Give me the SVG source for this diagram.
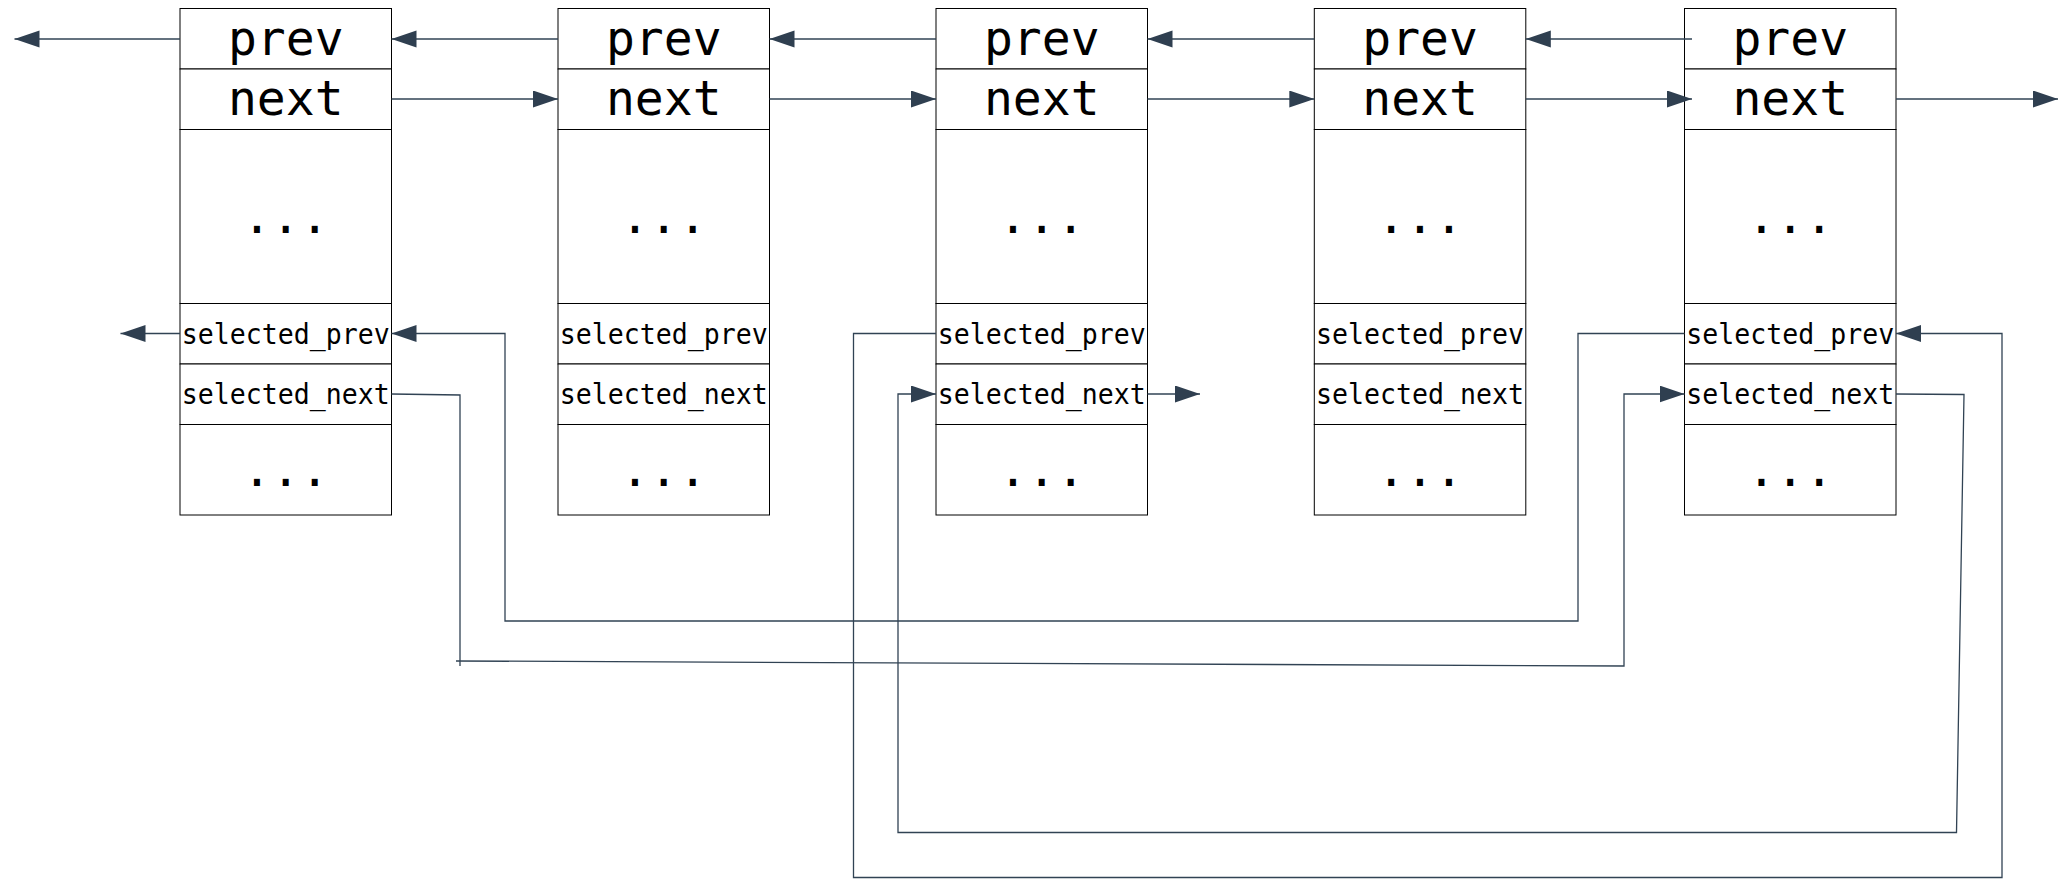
<svg xmlns="http://www.w3.org/2000/svg" width="2059" height="879" viewBox="0 0 2059 879">
<style>
.cell{fill:#ffffff;stroke:#000000;stroke-width:1}
.big{font-family:"DejaVu Sans Mono","Liberation Mono",monospace;font-size:48px;fill:#000000;text-anchor:middle}
.small{font-family:"DejaVu Sans Mono","Liberation Mono",monospace;font-size:29px;fill:#000000;text-anchor:middle}
.edge{fill:none;stroke:#314354;stroke-width:1.3}
.arr{marker-end:url(#ah)}
</style>
<defs>
<marker id="ah" markerUnits="userSpaceOnUse" markerWidth="26" markerHeight="18" refX="25" refY="8.5" orient="auto">
<path d="M0,0 L25,8.5 L0,17 z" fill="#2f3f50"/>
</marker>
<g id="nodeShape">
<rect class="cell" x="0" y="8.5" width="211.5" height="60.5"/>
<rect class="cell" x="0" y="69" width="211.5" height="60.5"/>
<rect class="cell" x="0" y="129.5" width="211.5" height="174"/>
<rect class="cell" x="0" y="303.5" width="211.5" height="60.5"/>
<rect class="cell" x="0" y="364" width="211.5" height="60.5"/>
<rect class="cell" x="0" y="424.5" width="211.5" height="90.5"/>
</g>
</defs>
<rect x="0" y="0" width="2059" height="879" fill="#ffffff"/>
<g id="node1" transform="translate(180,0)">
<use href="#nodeShape"/>
<text class="big" x="105.75" y="55">prev</text>
<text class="big" x="105.75" y="115">next</text>
<text class="big" x="105.75" y="232.5">...</text>
<text class="small" x="105.75" y="343.5" textLength="208" lengthAdjust="spacingAndGlyphs">selected_prev</text>
<text class="small" x="105.75" y="403.5" textLength="208" lengthAdjust="spacingAndGlyphs">selected_next</text>
<text class="big" x="105.75" y="486">...</text>
</g>
<g id="node2" transform="translate(558,0)">
<use href="#nodeShape"/>
<text class="big" x="105.75" y="55">prev</text>
<text class="big" x="105.75" y="115">next</text>
<text class="big" x="105.75" y="232.5">...</text>
<text class="small" x="105.75" y="343.5" textLength="208" lengthAdjust="spacingAndGlyphs">selected_prev</text>
<text class="small" x="105.75" y="403.5" textLength="208" lengthAdjust="spacingAndGlyphs">selected_next</text>
<text class="big" x="105.75" y="486">...</text>
</g>
<g id="node3" transform="translate(936,0)">
<use href="#nodeShape"/>
<text class="big" x="105.75" y="55">prev</text>
<text class="big" x="105.75" y="115">next</text>
<text class="big" x="105.75" y="232.5">...</text>
<text class="small" x="105.75" y="343.5" textLength="208" lengthAdjust="spacingAndGlyphs">selected_prev</text>
<text class="small" x="105.75" y="403.5" textLength="208" lengthAdjust="spacingAndGlyphs">selected_next</text>
<text class="big" x="105.75" y="486">...</text>
</g>
<g id="node4" transform="translate(1314.3,0)">
<use href="#nodeShape"/>
<text class="big" x="105.75" y="55">prev</text>
<text class="big" x="105.75" y="115">next</text>
<text class="big" x="105.75" y="232.5">...</text>
<text class="small" x="105.75" y="343.5" textLength="208" lengthAdjust="spacingAndGlyphs">selected_prev</text>
<text class="small" x="105.75" y="403.5" textLength="208" lengthAdjust="spacingAndGlyphs">selected_next</text>
<text class="big" x="105.75" y="486">...</text>
</g>
<g id="node5" transform="translate(1684.5,0)">
<use href="#nodeShape"/>
<text class="big" x="105.75" y="55">prev</text>
<text class="big" x="105.75" y="115">next</text>
<text class="big" x="105.75" y="232.5">...</text>
<text class="small" x="105.75" y="343.5" textLength="208" lengthAdjust="spacingAndGlyphs">selected_prev</text>
<text class="small" x="105.75" y="403.5" textLength="208" lengthAdjust="spacingAndGlyphs">selected_next</text>
<text class="big" x="105.75" y="486">...</text>
</g>
<g id="connectors">
<path class="edge arr" d="M180,39 L14.5,39"/>
<path class="edge arr" d="M558,39 L391.5,39"/>
<path class="edge arr" d="M936,39 L769.5,39"/>
<path class="edge arr" d="M1314.3,39 L1147.5,39"/>
<path class="edge arr" d="M1692,39 L1525.8,39"/>
<path class="edge arr" d="M391.5,99 L558,99"/>
<path class="edge arr" d="M769.5,99 L936,99"/>
<path class="edge arr" d="M1147.5,99 L1314.3,99"/>
<path class="edge arr" d="M1525.8,99 L1692,99"/>
<path class="edge arr" d="M1896,99 L2058,99"/>
<path class="edge arr" d="M180,333.5 L120.5,333.5"/>
<path class="edge arr" d="M1684.5,333.5 L1578,333.5 L1578,621 L505,621 L505,333.5 L391.5,333.5"/>
<path class="edge" d="M391.5,394 L460,395 L460,666"/>
<path class="edge arr" d="M456,661 L1624,666 L1624,394 L1684.5,394"/>
<path class="edge arr" d="M1896,394 L1964,394.5 L1956.5,832.5 L898,832.5 L898,394 L936,394"/>
<path class="edge arr" d="M936,333.5 L853.5,333.5 L853.5,877.5 L2002,877.5 L2002,333.5 L1896,333.5"/>
<path class="edge arr" d="M1147.5,394 L1200,394"/>
</g>
</svg>
